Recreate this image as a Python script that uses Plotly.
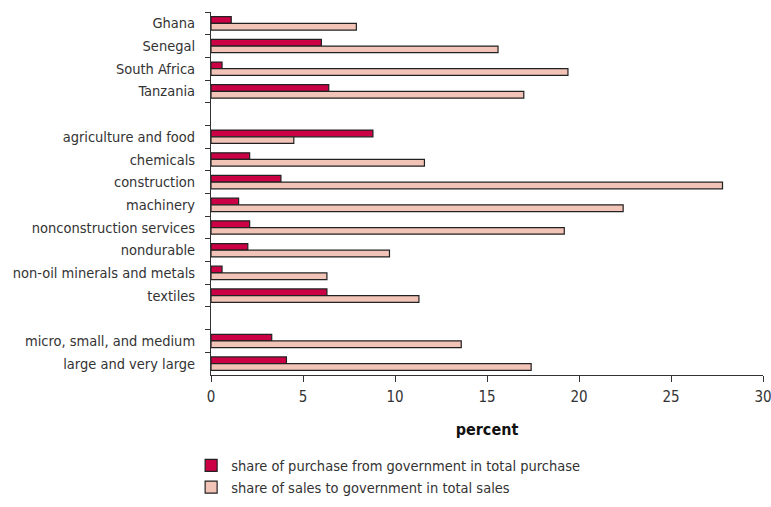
import plotly.graph_objects as go

categories = ["Ghana", "Senegal", "South Africa", "Tanzania", " ",
              "agriculture and food", "chemicals", "construction", "machinery",
              "nonconstruction services", "nondurable", "non-oil minerals and metals",
              "textiles", "  ", "micro, small, and medium", "large and very large"]

bar_categories = ["Ghana", "Senegal", "South Africa", "Tanzania",
                  "agriculture and food", "chemicals", "construction", "machinery",
                  "nonconstruction services", "nondurable", "non-oil minerals and metals",
                  "textiles", "micro, small, and medium", "large and very large"]

purchase_share = [1.1, 6.0, 0.6, 6.4, 8.8, 2.1, 3.8, 1.5, 2.1, 2.0, 0.6, 6.3, 3.3, 4.1]
sales_share = [7.9, 15.6, 19.4, 17.0, 4.5, 11.6, 27.8, 22.4, 19.2, 9.7, 6.3, 11.3, 13.6, 17.4]

x_ticks = [0, 5, 10, 15, 20, 25, 30]

FONT = "DejaVu Sans Condensed, Liberation Sans Narrow, sans-serif"
TXT = "#333333"

fig = go.Figure()
fig.add_trace(go.Bar(
    y=bar_categories, x=purchase_share, orientation="h",
    name="share of purchase from government in total purchase",
    marker=dict(color="#CC0044", line=dict(color="#222222", width=1.2)),
    legendgroup="a",
))
fig.add_trace(go.Bar(
    y=bar_categories, x=sales_share, orientation="h",
    name="share of sales to government in total sales",
    marker=dict(color="#F2C3B7", line=dict(color="#222222", width=1.2)),
    legendgroup="b",
))

fig.update_layout(
    width=771, height=507,
    margin=dict(l=211, r=8, t=12, b=132, autoexpand=False),
    paper_bgcolor="white", plot_bgcolor="white",
    barmode="group", bargap=0.41, bargroupgap=0,
    font=dict(family=FONT, size=14.5, color=TXT),
    showlegend=True,
    legend=dict(x=-0.036, y=-0.205, xanchor="left", yanchor="top",
                orientation="v", traceorder="normal", tracegroupgap=20,
                font=dict(family=FONT, size=14.5, color=TXT),
                bgcolor="rgba(0,0,0,0)"),
    xaxis=dict(range=[0, 30], tickvals=x_ticks, ticks="outside", ticklen=6,
               tickcolor="#333", showline=True, linecolor="#333", linewidth=1,
               showgrid=False, zeroline=False, automargin=False,
               ticklabelstandoff=2, ticklabeloverflow="allow",
               tickfont=dict(family=FONT, size=15, color=TXT),
               title=dict(text="<b>percent</b>", standoff=18,
                          font=dict(family=FONT, size=16, color="#111"))),
    yaxis=dict(type="category", categoryorder="array", categoryarray=categories,
               autorange="reversed", tickson="boundaries", ticks="outside",
               ticklen=5, tickcolor="#333", showline=True, linecolor="#333",
               linewidth=1, showgrid=False, zeroline=False, automargin=False,
               ticklabelstandoff=12, ticklabeloverflow="allow",
               tickfont=dict(family=FONT, size=14.5, color=TXT)),
)

# remove the browser's default page margin so the figure fills the window
fig.write_html("out.html",
               config={"displayModeBar": False},
               post_script="document.body.style.margin='0';document.body.style.overflow='hidden';")
